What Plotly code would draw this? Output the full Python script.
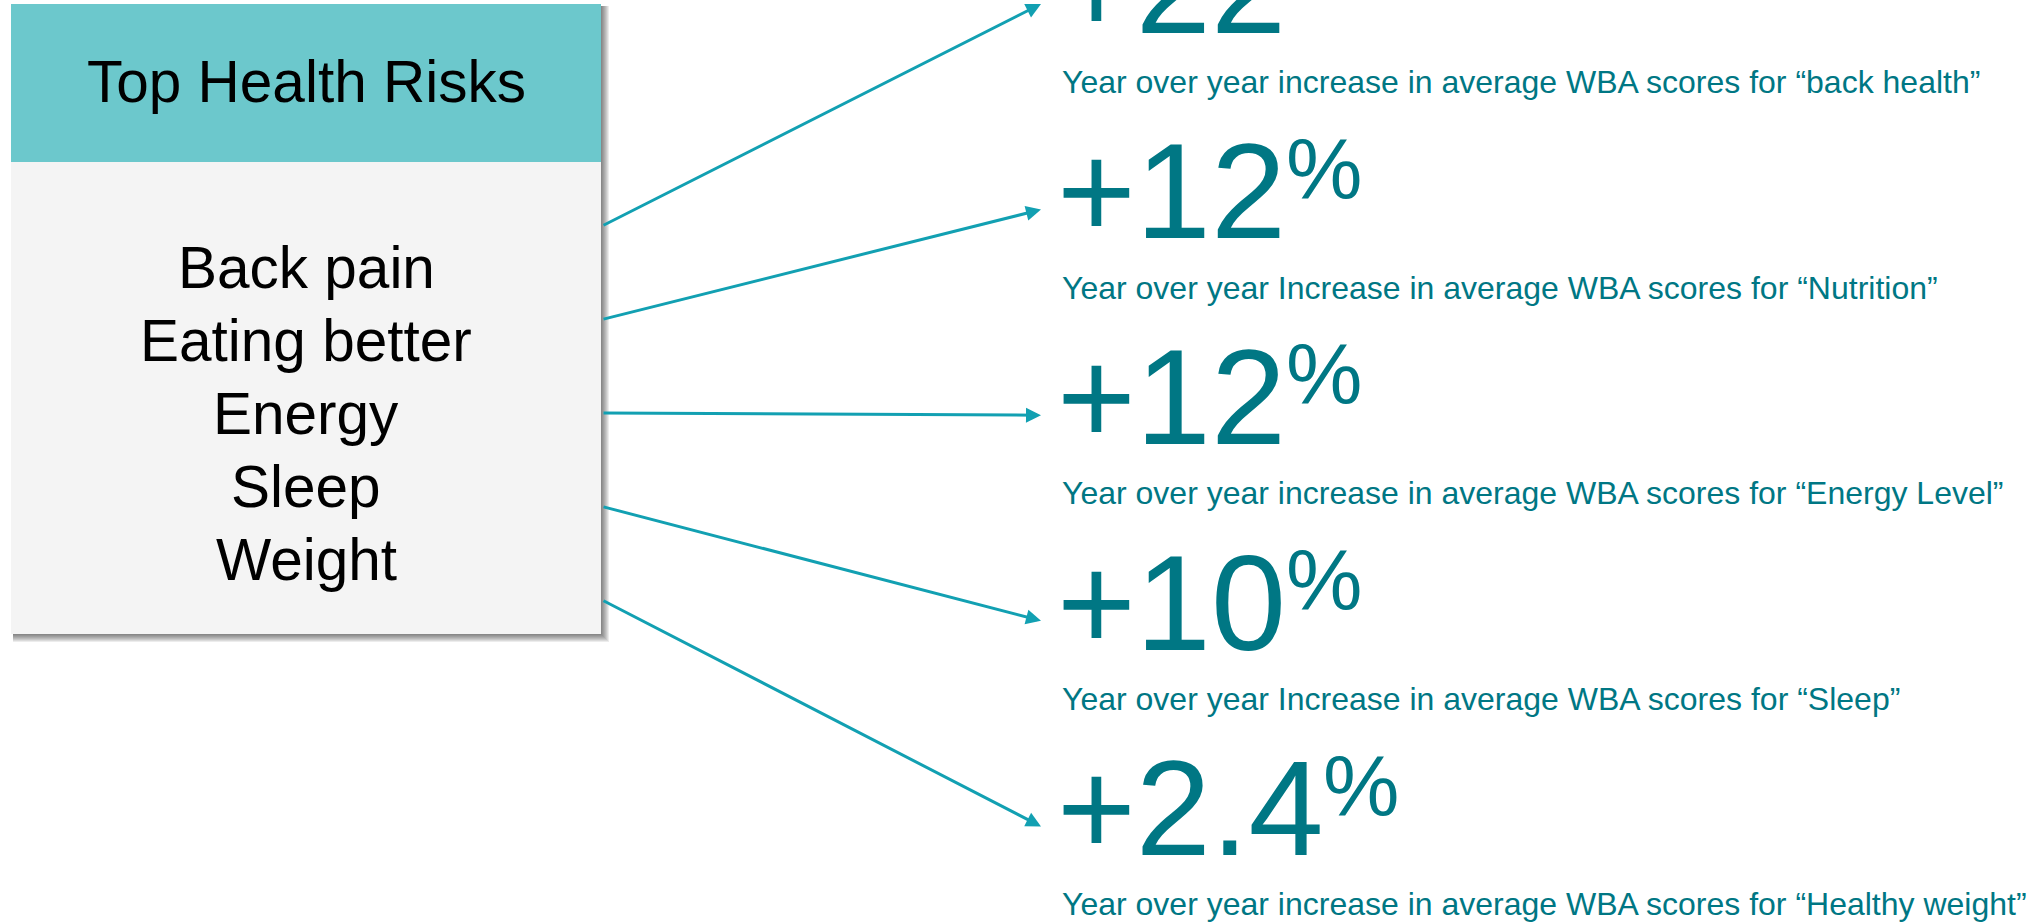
import plotly.graph_objects as go

# ---- content -------------------------------------------------------------
panel_title = "Top Health Risks"
risks = ["Back pain", "Eating better", "Energy", "Sleep", "Weight"]
increases = [22, 12, 12, 10, 2.4]
captions = [
    "Year over year increase in average WBA scores for \u201cback health\u201d",
    "Year over year Increase in average WBA scores for \u201cNutrition\u201d",
    "Year over year increase in average WBA scores for \u201cEnergy Level\u201d",
    "Year over year Increase in average WBA scores for \u201cSleep\u201d",
    "Year over year increase in average WBA scores for \u201cHealthy weight\u201d",
]

# ---- styling ---------------------------------------------------------------
W, H = 2028, 924
FONT = "Arial, Liberation Sans, sans-serif"
HEADER_FILL = "#6CC8CC"
BODY_FILL = "#F4F4F4"
ARROW = "#12A0B2"
TEAL_TEXT = "#007784"

BOX_X0, BOX_X1 = 11, 601
BOX_Y0, HEADER_Y1, BOX_Y1 = 4, 162, 634

BIG = 135      # headline number size
PCT = 86       # superscript percent size
CAP = 32       # caption size
LIST = 58.5    # panel text size

STEP = 205.6   # vertical pitch of the stat blocks
NUM_X = 1055
CAP_X = 1060

# advance widths (em) used to place the % sign after each number
ADV = {"+": 0.584, ".": 0.278}
for d in "0123456789":
    ADV[d] = 0.556


def py(pixel_y):
    # pixel row (from top) -> paper coordinate
    return 1 - pixel_y / H


def px(pixel_x):
    return pixel_x / W


def mid_from_baseline(baseline, size):
    # text annotations are anchored on their vertical middle
    return baseline - 0.3465 * size


fig = go.Figure()
shapes = []

# soft drop shadow behind the panel
for k in range(1, 9):
    shapes.append(dict(
        type="rect", xref="x", yref="y", layer="below",
        x0=BOX_X0 + 2, x1=BOX_X1 + k, y0=BOX_Y0 + 2, y1=BOX_Y1 + k,
        fillcolor="rgba(0,0,0,0.075)", line=dict(width=0),
    ))
shapes.append(dict(type="rect", xref="x", yref="y", layer="below",
                   x0=BOX_X0, x1=BOX_X1, y0=HEADER_Y1, y1=BOX_Y1,
                   fillcolor=BODY_FILL, line=dict(width=0)))
shapes.append(dict(type="rect", xref="x", yref="y", layer="below",
                   x0=BOX_X0, x1=BOX_X1, y0=BOX_Y0, y1=HEADER_Y1,
                   fillcolor=HEADER_FILL, line=dict(width=0)))

ann = []
box_cx = (BOX_X0 + BOX_X1) / 2


def text_ann(x, y, text, size, color, xanchor="left"):
    return dict(x=px(x), y=py(y), xref="paper", yref="paper", text=text,
                showarrow=False, xanchor=xanchor, yanchor="middle",
                font=dict(family=FONT, size=size, color=color))


# panel header and list
ann.append(text_ann(box_cx, 81, panel_title, LIST, "#000000", "center"))
for i, r in enumerate(risks):
    ann.append(text_ann(box_cx, 267 + 73.1 * i, r, LIST, "#000000", "center"))

# stat blocks with connecting arrows
for i, (v, c) in enumerate(zip(increases, captions)):
    label = f"+{v:g}"
    big_base = 33 + STEP * i
    cap_base = 93 + STEP * i

    ann.append(text_ann(NUM_X, mid_from_baseline(big_base, BIG), label, BIG, TEAL_TEXT))
    pct_x = NUM_X + sum(ADV[ch] for ch in label) * BIG
    ann.append(text_ann(pct_x, mid_from_baseline(big_base - 40, PCT), "%", PCT, TEAL_TEXT))
    ann.append(text_ann(CAP_X, mid_from_baseline(cap_base, CAP), c, CAP, TEAL_TEXT))

    tip_x, tip_y = 1041, big_base - 29
    tail_x, tail_y = BOX_X1 + 1, 226 + 93.5 * i
    ann.append(dict(x=px(tip_x), y=py(tip_y), xref="paper", yref="paper",
                    ax=tail_x - tip_x, ay=tail_y - tip_y, axref="pixel", ayref="pixel",
                    text="", showarrow=True, arrowhead=2, arrowsize=1.0,
                    arrowwidth=3, arrowcolor=ARROW, standoff=0, startstandoff=0))

fig.update_layout(
    width=W, height=H,
    margin=dict(l=0, r=0, t=0, b=0),
    paper_bgcolor="white", plot_bgcolor="white",
    showlegend=False,
    xaxis=dict(range=[0, W], visible=False, fixedrange=True),
    yaxis=dict(range=[H, 0], visible=False, fixedrange=True),
    shapes=shapes,
    annotations=ann,
)

fig.write_html("out.html")
